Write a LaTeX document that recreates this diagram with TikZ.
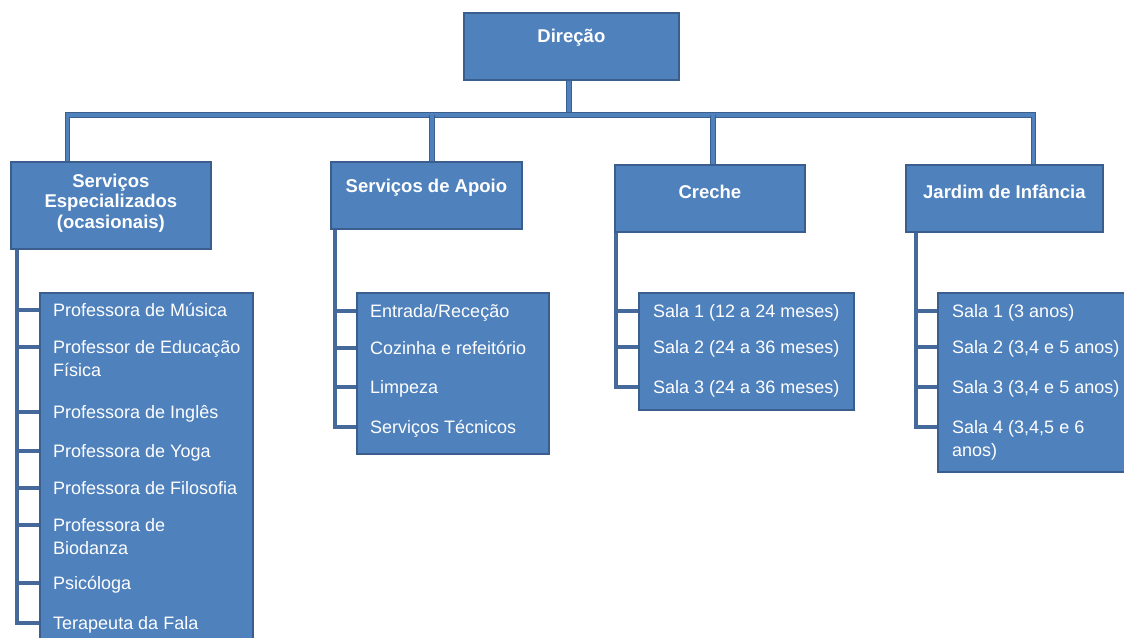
\documentclass[tikz,border=0pt]{standalone}
\usepackage{fontspec}
\setmainfont{Liberation Sans}
\definecolor{boxfill}{HTML}{4F81BD}
\definecolor{boxline}{HTML}{3A5F8E}
\definecolor{connline}{HTML}{44699A}
\newcommand\twolines[2]{\vtop{\hbox{#1}\hbox{#2}}}
\tikzset{
  headbox/.style={draw=boxline, fill=boxfill, line width=1.8pt, inner sep=0pt, anchor=north west},
  headtext/.style={text=white, font=\fontsize{18.5}{20.5}\selectfont\bfseries, align=center, inner sep=0pt},
  listbox/.style={draw=boxline, fill=boxfill, line width=1.8pt, inner sep=0pt, anchor=north west},
  itemtext/.style={text=white, font=\fontsize{18}{23}\selectfont, anchor=base west, inner sep=0pt},
  mainconn/.style={draw=boxline, line width=1.1pt, double=boxfill, double distance=3.4pt},
  subconn/.style={draw=connline, line width=4pt},
}
\begin{document}
\begin{tikzpicture}[x=1pt,y=-1pt]
\useasboundingbox (0,0) rectangle (1124,637);
\fill[white] (0,0) rectangle (1124,637);
\clip (0,0) rectangle (1124,637);

% head boxes
\node[headbox, minimum width=215pt, minimum height=67pt,
  label={[headtext, yshift=8.5pt]center:Direção}] (dir) at (463,12) {};
\node[headbox, minimum width=200pt, minimum height=87pt,
  label={[headtext, yshift=2.5pt]center:Serviços\\Especializados\\(ocasionais)}] (se) at (10,161) {};
\node[headbox, minimum width=191pt, minimum height=67pt,
  label={[headtext, yshift=7.5pt]center:Serviços de Apoio}] (sa) at (330,161) {};
\node[headbox, minimum width=190pt, minimum height=67pt,
  label={[headtext, yshift=6.5pt]center:Creche}] (cr) at (614,164) {};
\node[headbox, minimum width=197pt, minimum height=67pt,
  label={[headtext, yshift=6.5pt]center:Jardim de Infância}] (ji) at (905,164) {};

% list boxes
\node[listbox, minimum width=213pt, minimum height=380pt] (seb) at (39,292) {};
\node[listbox, minimum width=192pt, minimum height=161pt] (sab) at (356,292) {};
\node[listbox, minimum width=215pt, minimum height=117pt] (crb) at (638,292) {};
\node[listbox, minimum width=200pt, minimum height=179pt] (jib) at (937,292) {};

% items
\node[itemtext] (se1) at (53,316.5) {Professora de Música};
\node[itemtext] (se2) at (53,353.5) {\twolines{Professor de Educação}{Física}};
\node[itemtext] (se3) at (53,418.5) {Professora de Inglês};
\node[itemtext] (se4) at (53,457.5) {Professora de Yoga};
\node[itemtext] (se5) at (53,494.5) {Professora de Filosofia};
\node[itemtext] (se6) at (53,531.5) {\twolines{Professora de}{Biodanza}};
\node[itemtext] (se7) at (53,589.5) {Psicóloga};
\node[itemtext] (se8) at (53,629.5) {Terapeuta da Fala};

\node[itemtext] (sa1) at (370,317.5) {Entrada/Receção};
\node[itemtext] (sa2) at (370,354.5) {Cozinha e refeitório};
\node[itemtext] (sa3) at (370,393.5) {Limpeza};
\node[itemtext] (sa4) at (370,433.5) {Serviços Técnicos};

\node[itemtext] (cr1) at (653,317.5) {Sala 1 (12 a 24 meses)};
\node[itemtext] (cr2) at (653,353.5) {Sala 2 (24 a 36 meses)};
\node[itemtext] (cr3) at (653,393.5) {Sala 3 (24 a 36 meses)};

\node[itemtext] (ji1) at (952,317.5) {Sala 1 (3 anos)};
\node[itemtext] (ji2) at (952,353.5) {Sala 2 (3,4 e 5 anos)};
\node[itemtext] (ji3) at (952,393.5) {Sala 3 (3,4 e 5 anos)};
\node[itemtext] (ji4) at (952,433.5) {\twolines{Sala 4 (3,4,5 e 6}{anos)}};

% main connectors
\coordinate (bar) at (0,115);
\coordinate (dirdrop) at ([xshift=-2.5pt]dir.south);
\coordinate (sedrop) at ([xshift=-43.3pt]se.north);
\coordinate (sadrop) at ([xshift=5.5pt]sa.north);
\coordinate (crdrop) at ([xshift=3pt]cr.north);
\coordinate (jidrop) at ([xshift=29.2pt]ji.north);
\draw[mainconn] (dirdrop) -- (dirdrop |- bar);
\draw[mainconn] (sedrop) -- (sedrop |- bar) -- (jidrop |- bar) -- (jidrop);
\draw[mainconn] (sadrop) -- (sadrop |- bar);
\draw[mainconn] (crdrop) -- (crdrop |- bar);

% sub connectors
\coordinate (sestem) at ([xshift=7pt]se.south west);
\coordinate (sastem) at ([xshift=5pt]sa.south west);
\coordinate (crstem) at ([xshift=2pt]cr.south west);
\coordinate (jistem) at ([xshift=11pt]ji.south west);
\foreach \p/\n in {se/8, sa/4, cr/3, ji/4} {
  \foreach \i in {1,...,\n} {
    \coordinate (\p\i b) at ([yshift=6.5pt]\p\i.base);
    \draw[subconn] (\p stem |- \p\i b) -- (\p b.west |- \p\i b);
  }
  \draw[subconn] (\p stem) |- (\p b.west |- \p\n b);
}
\end{tikzpicture}
\end{document}
